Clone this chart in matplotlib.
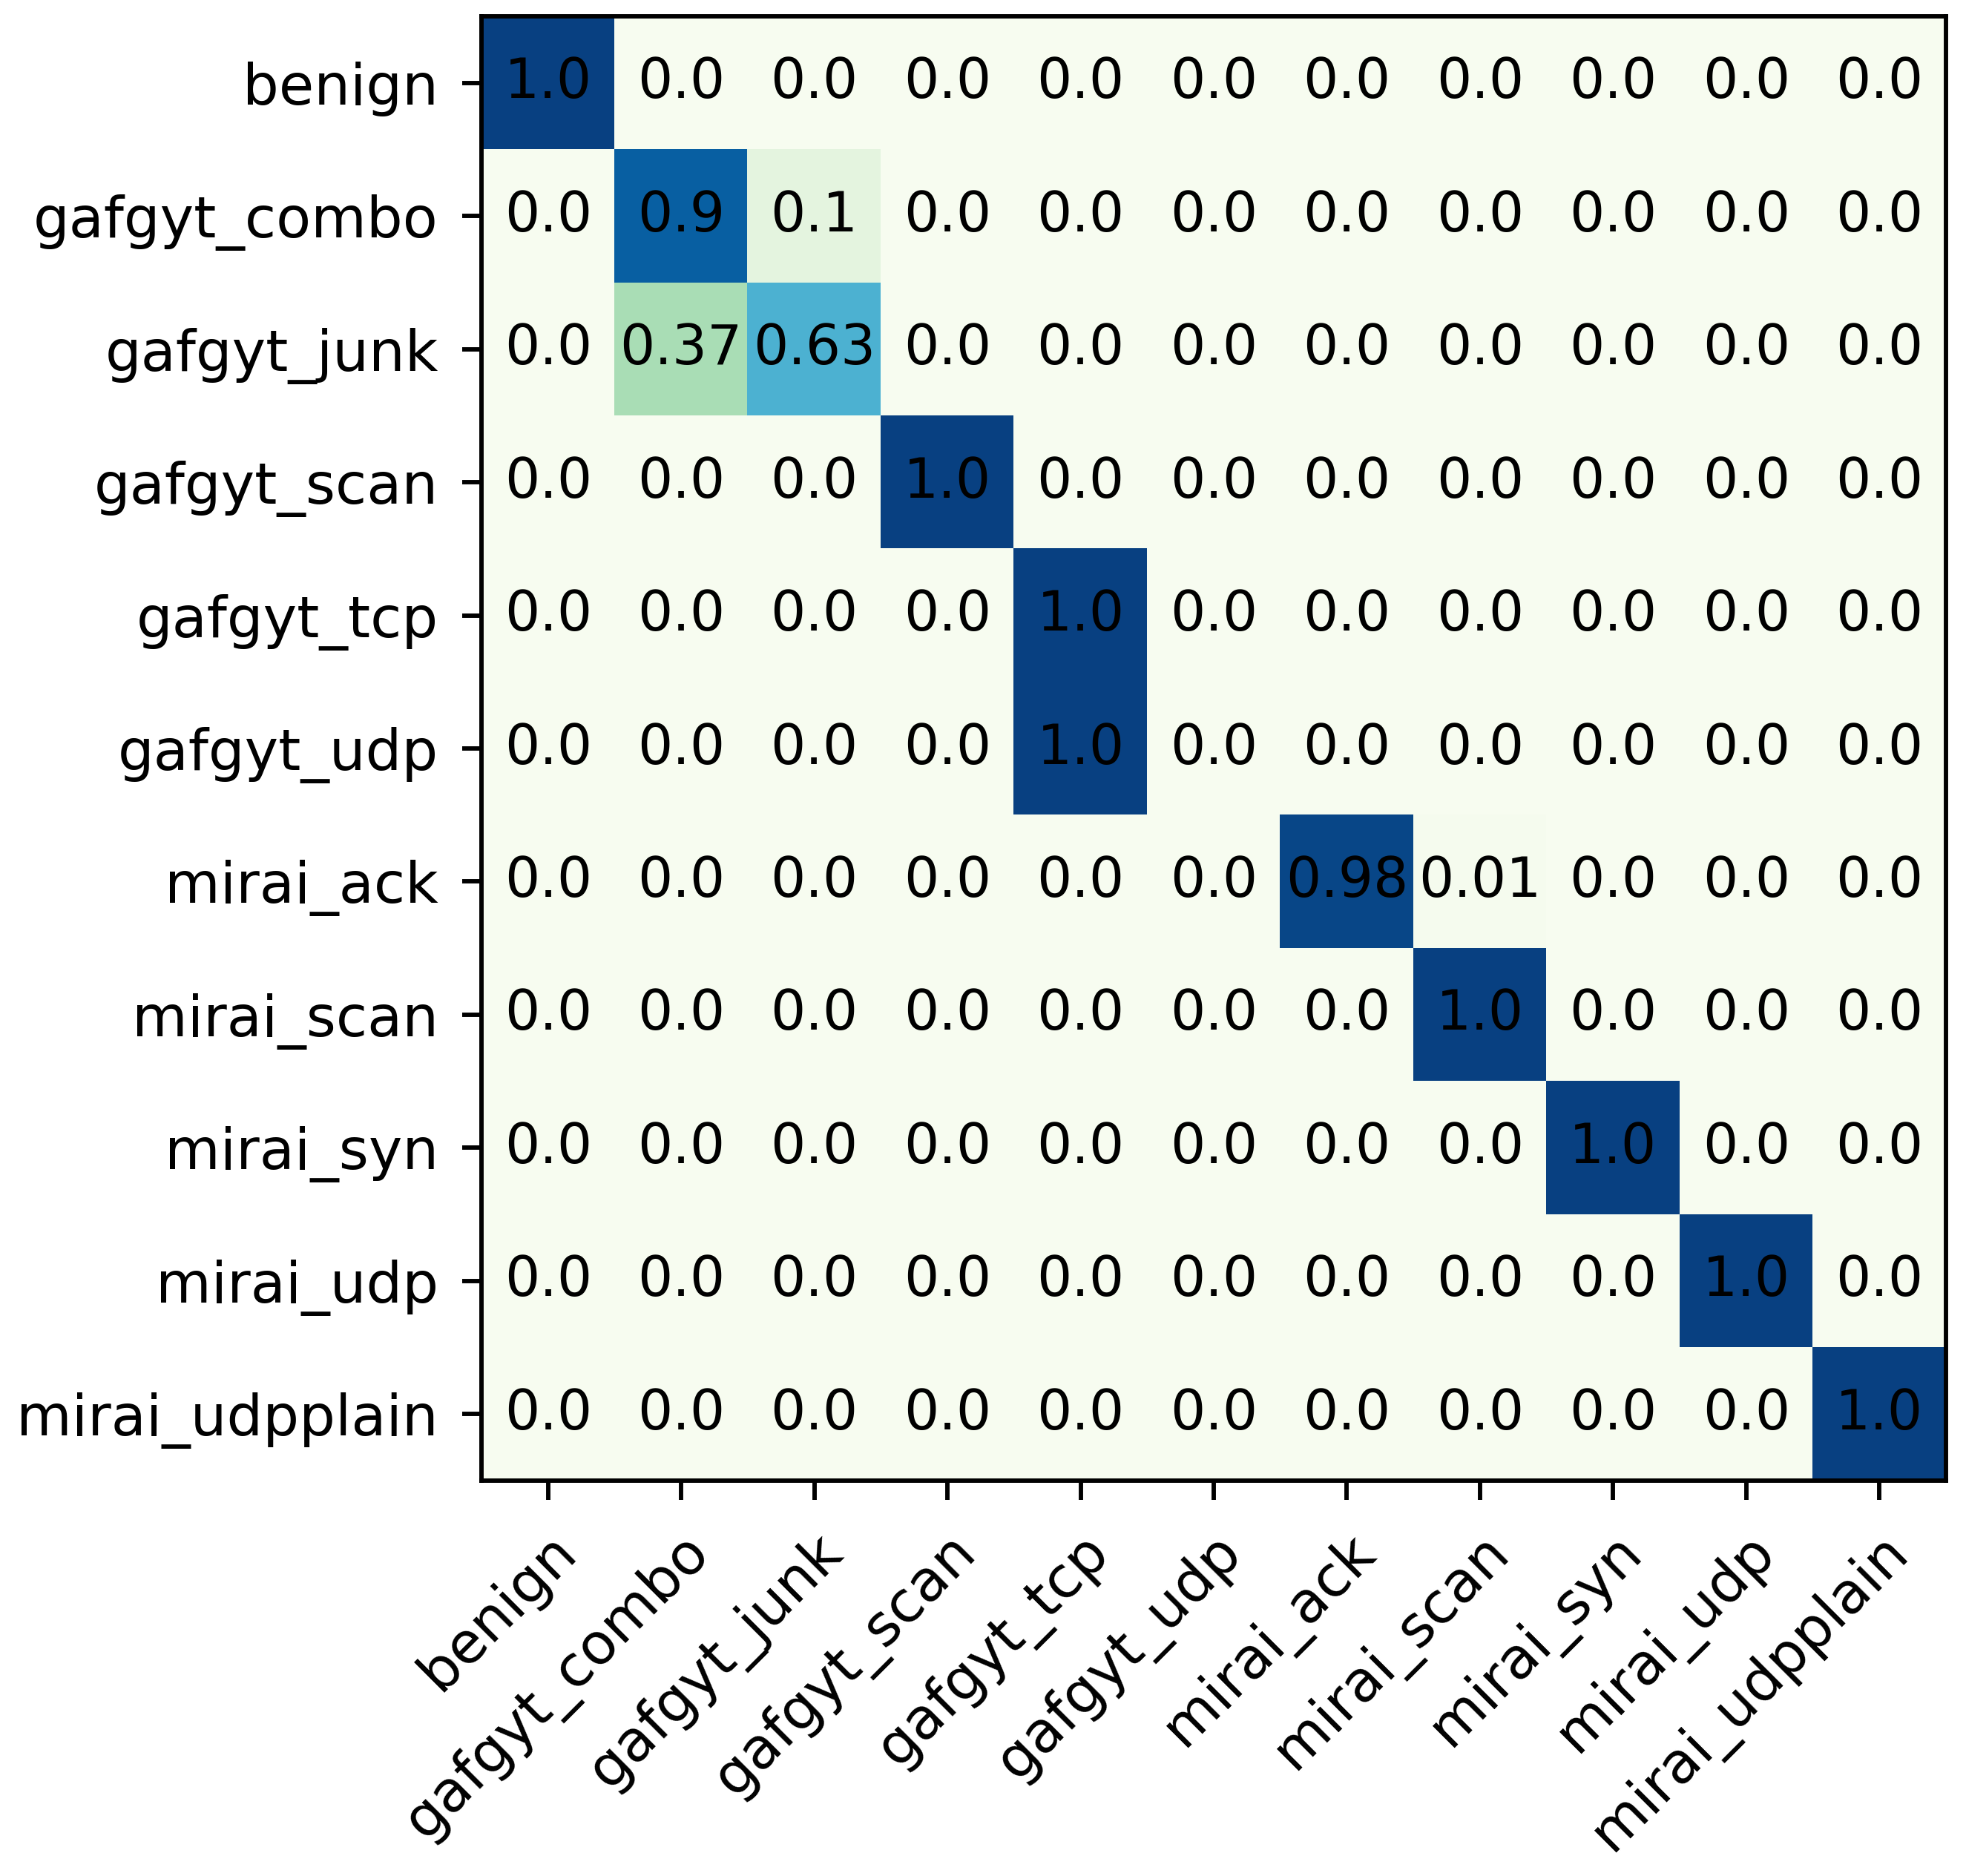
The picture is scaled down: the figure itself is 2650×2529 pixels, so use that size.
import numpy as np
import matplotlib
matplotlib.use("Agg")
import matplotlib.pyplot as plt

# class names (true = rows, predicted = columns)
labels = ['benign', 'gafgyt_combo', 'gafgyt_junk', 'gafgyt_scan', 'gafgyt_tcp',
          'gafgyt_udp', 'mirai_ack', 'mirai_scan', 'mirai_syn', 'mirai_udp',
          'mirai_udpplain']

# normalised confusion matrix
row_benign = [1.0, 0, 0, 0, 0, 0, 0, 0, 0, 0, 0]
row_gafgyt_combo = [0, 0.9, 0.1, 0, 0, 0, 0, 0, 0, 0, 0]
row_gafgyt_junk = [0, 0.37, 0.63, 0, 0, 0, 0, 0, 0, 0, 0]
row_gafgyt_scan = [0, 0, 0, 1.0, 0, 0, 0, 0, 0, 0, 0]
row_gafgyt_tcp = [0, 0, 0, 0, 1.0, 0, 0, 0, 0, 0, 0]
row_gafgyt_udp = [0, 0, 0, 0, 1.0, 0, 0, 0, 0, 0, 0]
row_mirai_ack = [0, 0, 0, 0, 0, 0, 0.98, 0.01, 0, 0, 0]
row_mirai_scan = [0, 0, 0, 0, 0, 0, 0, 1.0, 0, 0, 0]
row_mirai_syn = [0, 0, 0, 0, 0, 0, 0, 0, 1.0, 0, 0]
row_mirai_udp = [0, 0, 0, 0, 0, 0, 0, 0, 0, 1.0, 0]
row_mirai_udpplain = [0, 0, 0, 0, 0, 0, 0, 0, 0, 0, 1.0]

cm = np.array([row_benign, row_gafgyt_combo, row_gafgyt_junk, row_gafgyt_scan,
               row_gafgyt_tcp, row_gafgyt_udp, row_mirai_ack, row_mirai_scan,
               row_mirai_syn, row_mirai_udp, row_mirai_udpplain], dtype=float)

dpi = 530
fig = plt.figure(figsize=(2650 / dpi, 2529 / dpi), dpi=dpi)
ax = fig.add_axes([649 / 2650, 1 - 1996 / 2529, 1974 / 2650, 1974 / 2529])

ax.imshow(cm, cmap='GnBu', vmin=0, vmax=1, interpolation='nearest')

# cell values
for i in range(cm.shape[0]):
    for j in range(cm.shape[1]):
        ax.text(j, i, str(round(cm[i, j], 2)), ha='center', va='center',
                color='black', fontsize=10.1)

ax.set_xticks(np.arange(len(labels)))
ax.set_yticks(np.arange(len(labels)))
ax.set_xticklabels(labels, rotation=45, ha='right', va='top',
                   rotation_mode='anchor')
ax.set_yticklabels(labels)
ax.tick_params(axis='both', labelsize=10.45, pad=4.4)

fig.savefig('out.png', dpi=dpi)
